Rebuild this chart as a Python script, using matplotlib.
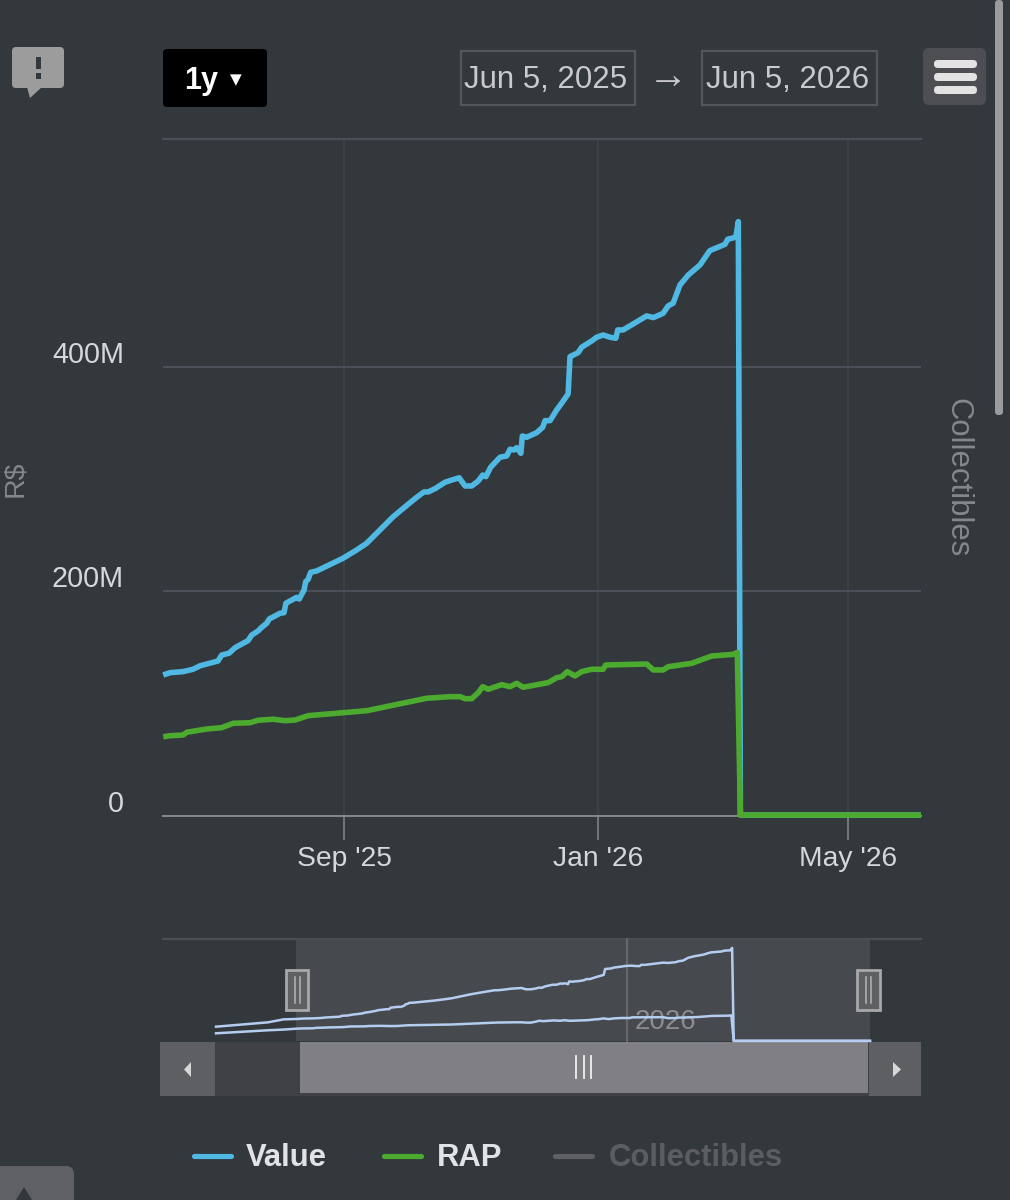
import numpy as np
import matplotlib
matplotlib.use("Agg")
import matplotlib.pyplot as plt
import matplotlib.dates as mdates
from matplotlib.patches import Rectangle, FancyBboxPatch, Polygon
from matplotlib.transforms import ScaledTranslation
from datetime import datetime, timedelta

plt.rcParams['font.family'] = ['Liberation Sans', 'DejaVu Sans']

BASE = datetime(2025, 6, 5)
value_days = [1.2,4.5,10.7,15.5,18.9,27.5,29.3,32.8,35.7,38.9,41.9,43.7,46.7,48.5,50.9,52.1,54.9,57.3,59.2,60.1,
              62.9,65.3,66.5,68.8,69.6,70.8,72,74.9,87.5,94.1,98.9,111.6,119.7,122.9,126.4,128.4,131.7,136.5,139.7,143.3,
              146.1,149.3,152.4,154.6,156.1,158.4,162.9,166.1,167.7,169.6,170.9,171.8,172.9,173.6,175.7,180.5,183.4,184.5,186.9,190.1,
              192.5,195.6,196.5,200.4,202.1,206.9,209.3,212.4,215.7,218.5,219.4,222,233.3,236.5,241.2,243.6,246,249.3,253.3,258.9,
              263.6,270.9,272.2,276.1,277.3,278.3,365]
value_m = [125.6,127.7,128.6,130.7,133.8,138.1,143.4,145,149.9,153.2,156.2,161.2,164.8,168.1,171.7,175.5,178.2,180.6,181.1,189.5,
           192.4,194.8,193.3,201.3,208.7,210.9,217.1,218.3,229.6,237,243,266.6,279.1,283.9,288.7,288.7,291.6,297.3,299.3,301.3,
           294,294,298.4,303.8,302.3,310.7,319.6,320.7,326.7,326.1,328.1,326.1,323.1,338.5,337.4,341.5,346.3,352.2,352.2,361.7,
           367.8,376,409.2,412.8,417.6,423.2,426.5,428.5,426.5,425.6,433,433,445.5,444,447.8,454.4,456.8,473.1,482,490.9,
           503.6,509.3,513.8,515.6,529.5,0.8,0.8]
rap_days = [1.2,4.5,10.8,12.5,22.1,29.3,34.8,42.9,46.8,54,59.7,64.5,70.8,98.9,127.7,138.9,143.7,146.1,149.3,152.4,
            154.6,157.2,163.7,167.7,170.9,174,186,190.1,192.5,195.2,198.9,202.1,206.9,212.4,213.6,233.3,236.5,241.2,243.6,254.9,
            264.5,274.8,276.8,278.3,365]
rap_m = [70.6,71.5,72.2,74.6,77.5,78.7,82.6,83.1,85.3,86.2,84.9,85.5,89.4,93.8,104.9,106.3,106.3,104.5,104.5,109.8,
         115.2,112.9,117,115.2,118.2,114.7,118.8,123.2,124.1,128.6,124.7,128.6,130.7,130.7,134.5,135.4,130.1,130.1,133,136,
         142.5,144,145.7,0.8,0.8]
# Earlier history, visible only in the navigator
hist_days = [-51,-18,-8]
hist_value_m = [81.4,106,123]
hist_rap_m = [43.8,61,65]

y_ticks = [0,200,400]
y_labels = ['0','200M','400M']
x_tick_dates = [datetime(2025,9,1),datetime(2026,1,1),datetime(2026,5,1)]
x_labels = ["Sep '25","Jan '26","May '26"]

BG='#33383c'; BLUE='#4fb9e3'; GREEN='#4cab2f'; NAV='#b4cdf0'
W,H=1010,1200
def to_dates(d): return [BASE+timedelta(days=float(x)) for x in d]
def axrect(l,t,r,b): return [l/W,1-b/H,(r-l)/W,(b-t)/H]

fig=plt.figure(figsize=(W/100,H/100),dpi=100,facecolor=BG)

# chrome layer behind
ui=fig.add_axes([0,0,1,1],zorder=0); ui.set_xlim(0,W); ui.set_ylim(H,0); ui.axis('off')
def box(x0,y0,x1,y1,fc,ec='none',lw=0,r=0,z=1):
    if r:
        p=FancyBboxPatch((x0+r,y0+r),x1-x0-2*r,y1-y0-2*r,boxstyle=f"round,pad={r},rounding_size={r}",fc=fc,ec=ec,lw=lw,zorder=z)
    else:
        p=Rectangle((x0,y0),x1-x0,y1-y0,fc=fc,ec=ec,lw=lw,zorder=z)
    ui.add_patch(p)

# main chart
ax=fig.add_axes(axrect(163,139,921,816),zorder=2); ax.patch.set_alpha(0)
ax.plot(to_dates(value_days),value_m,color=BLUE,lw=4.0,solid_joinstyle='round',solid_capstyle='butt',clip_on=False,zorder=3)
ax.plot(to_dates(rap_days),rap_m,color=GREEN,lw=4.0,solid_joinstyle='round',solid_capstyle='butt',clip_on=False,zorder=4)
ax.set_xlim(mdates.date2num(BASE+timedelta(days=1.1)),mdates.date2num(BASE+timedelta(days=365)))
ax.set_ylim(0,603.1)
ax.set_yticks(y_ticks); ax.set_yticklabels(y_labels,fontsize=20.7,color='#d6d7d9')
ax.set_xticks(x_tick_dates); ax.set_xticklabels(x_labels,fontsize=20.3,color='#d6d7d9')
ax.tick_params(axis='y',length=0,pad=28)
ax.tick_params(axis='x',length=17,width=1.1,color='#85888c',pad=4.5)
off=ScaledTranslation(0,15/100,fig.dpi_scale_trans)
for t in ax.get_yticklabels(): t.set_transform(t.get_transform()+off)
ax.grid(axis='y',color='#4b5058',lw=1.5)
ax.grid(axis='x',color='#40444a',lw=1.1)
ax.set_axisbelow(True)
for s in ['left','right']: ax.spines[s].set_visible(False)
ax.spines['top'].set_color('#4b5058'); ax.spines['top'].set_linewidth(1.5)
ax.spines['bottom'].set_color('#85888c'); ax.spines['bottom'].set_linewidth(1.4)

ui.text(15,479,'R$',rotation=90,ha='center',va='center',fontsize=20.5,color='#85878a')
ui.text(957,478,'Collectibles',rotation=-90,ha='center',va='center',fontsize=22.3,color='#85878a')

# navigator
box(296,940,870,1041,'#46494e')
ui.plot([163,921],[939,939],color='#4b4e52',lw=1.6,zorder=2)
nav=fig.add_axes(axrect(216,939,870,1041),zorder=2); nav.patch.set_alpha(0)
nav.plot(to_dates(hist_days+value_days),hist_value_m+value_m,color=NAV,lw=1.8,clip_on=False)
nav.plot(to_dates(hist_days+rap_days),hist_rap_m+rap_m,color=NAV,lw=1.8,clip_on=False)
nav.set_xlim(mdates.date2num(BASE+timedelta(days=-51)),mdates.date2num(BASE+timedelta(days=365)))
nav.set_ylim(0,580)
nav.axis('off')
ui.plot([627,627],[939,1041],color='#6a6c70',lw=1.3,zorder=2)
ui.text(635,1022,'2026',ha='left',va='center',fontsize=20,color='#8c8d90',zorder=2)

# scrollbar
box(160,1042,921,1096,'#404144')
box(160,1042,215,1096,'#5e5f63'); box(869,1042,921,1096,'#5e5f63')
box(299.5,1042,868,1093,'#808084',z=2)
for x in (576,583.5,591): ui.plot([x,x],[1056,1078],color='#f0f0f0',lw=1.3,zorder=3)
ui.add_patch(Polygon([[191,1062],[191,1077],[184,1069.5]],fc='#d8d8d8',zorder=3))
ui.add_patch(Polygon([[893,1062],[893,1077],[901,1069.5]],fc='#d8d8d8',zorder=3))

# handles sit above the navigator
top=fig.add_axes([0,0,1,1],zorder=5); top.set_xlim(0,W); top.set_ylim(H,0); top.axis('off'); top.patch.set_alpha(0)
for x0,x1 in ((286,308),(857,880)):
    top.add_patch(Rectangle((x0,970),x1-x0,40,fc='#5f6063',ec='#a8a8a8',lw=2))
    c=(x0+x1)/2
    for dx in (-2.5,2.5): top.plot([c+dx,c+dx],[977,1003],color='#b5b5b5',lw=1.1)

# top controls
box(163,49,267,107,'#000000',r=4)
ui.text(184,81,'1y',ha='left',va='center',fontsize=22,fontweight='bold',color='white')
ui.text(236,80,'▼',ha='center',va='center',fontsize=11,color='white',family=['DejaVu Sans'])
box(460.5,50.5,635,105,'none',ec='#53565a',lw=1.6)
box(701.5,50.5,876.5,105,'none',ec='#53565a',lw=1.6)
ui.text(545.5,80,'Jun 5, 2025',ha='center',va='center',fontsize=22.5,color='#c9cacc')
ui.text(787.5,80,'Jun 5, 2026',ha='center',va='center',fontsize=22.5,color='#c9cacc')
ui.text(668,77,'→',ha='center',va='center',fontsize=29,color='#c9cacc')
box(923,48,986,105,'#4d4e52',r=6)
for y0,y1 in ((60,68),(73,81),(86,94)):
    box(934,y0,977,y1,'#e3e3e3',r=3.9,z=2)

# feedback icon
box(12,47,64,88,'#9c9c9c',r=4)
ui.add_patch(Polygon([[27,87],[42,87],[30,98]],fc='#9c9c9c',zorder=1))
box(36,57,41,69,BG,z=2); box(36,73,41,79,BG,z=2)

# legend
for x0,c in ((192,BLUE),(382,GREEN),(553,'#5f6063')):
    ui.plot([x0+2,x0+39],[1155.5,1155.5],color=c,lw=3.7,solid_capstyle='round')
ui.text(246,1158,'Value',ha='left',va='center',fontsize=22.3,fontweight='bold',color='#e2e3e6')
ui.text(437,1158,'RAP',ha='left',va='center',fontsize=22.3,fontweight='bold',color='#e2e3e6')
ui.text(609,1158,'Collectibles',ha='left',va='center',fontsize=22.3,fontweight='bold',color='#5c5d61')

# page scrollbar and corner button
box(995,0,1003,415,'#9a9b9d',r=3.5)
box(-8,1166,74,1215,'#5f6063',r=8)
ui.add_patch(Polygon([[24,1187],[16,1200],[32,1200]],fc='#33383c',zorder=2))

fig.savefig('out.png',dpi=100,facecolor=BG)
